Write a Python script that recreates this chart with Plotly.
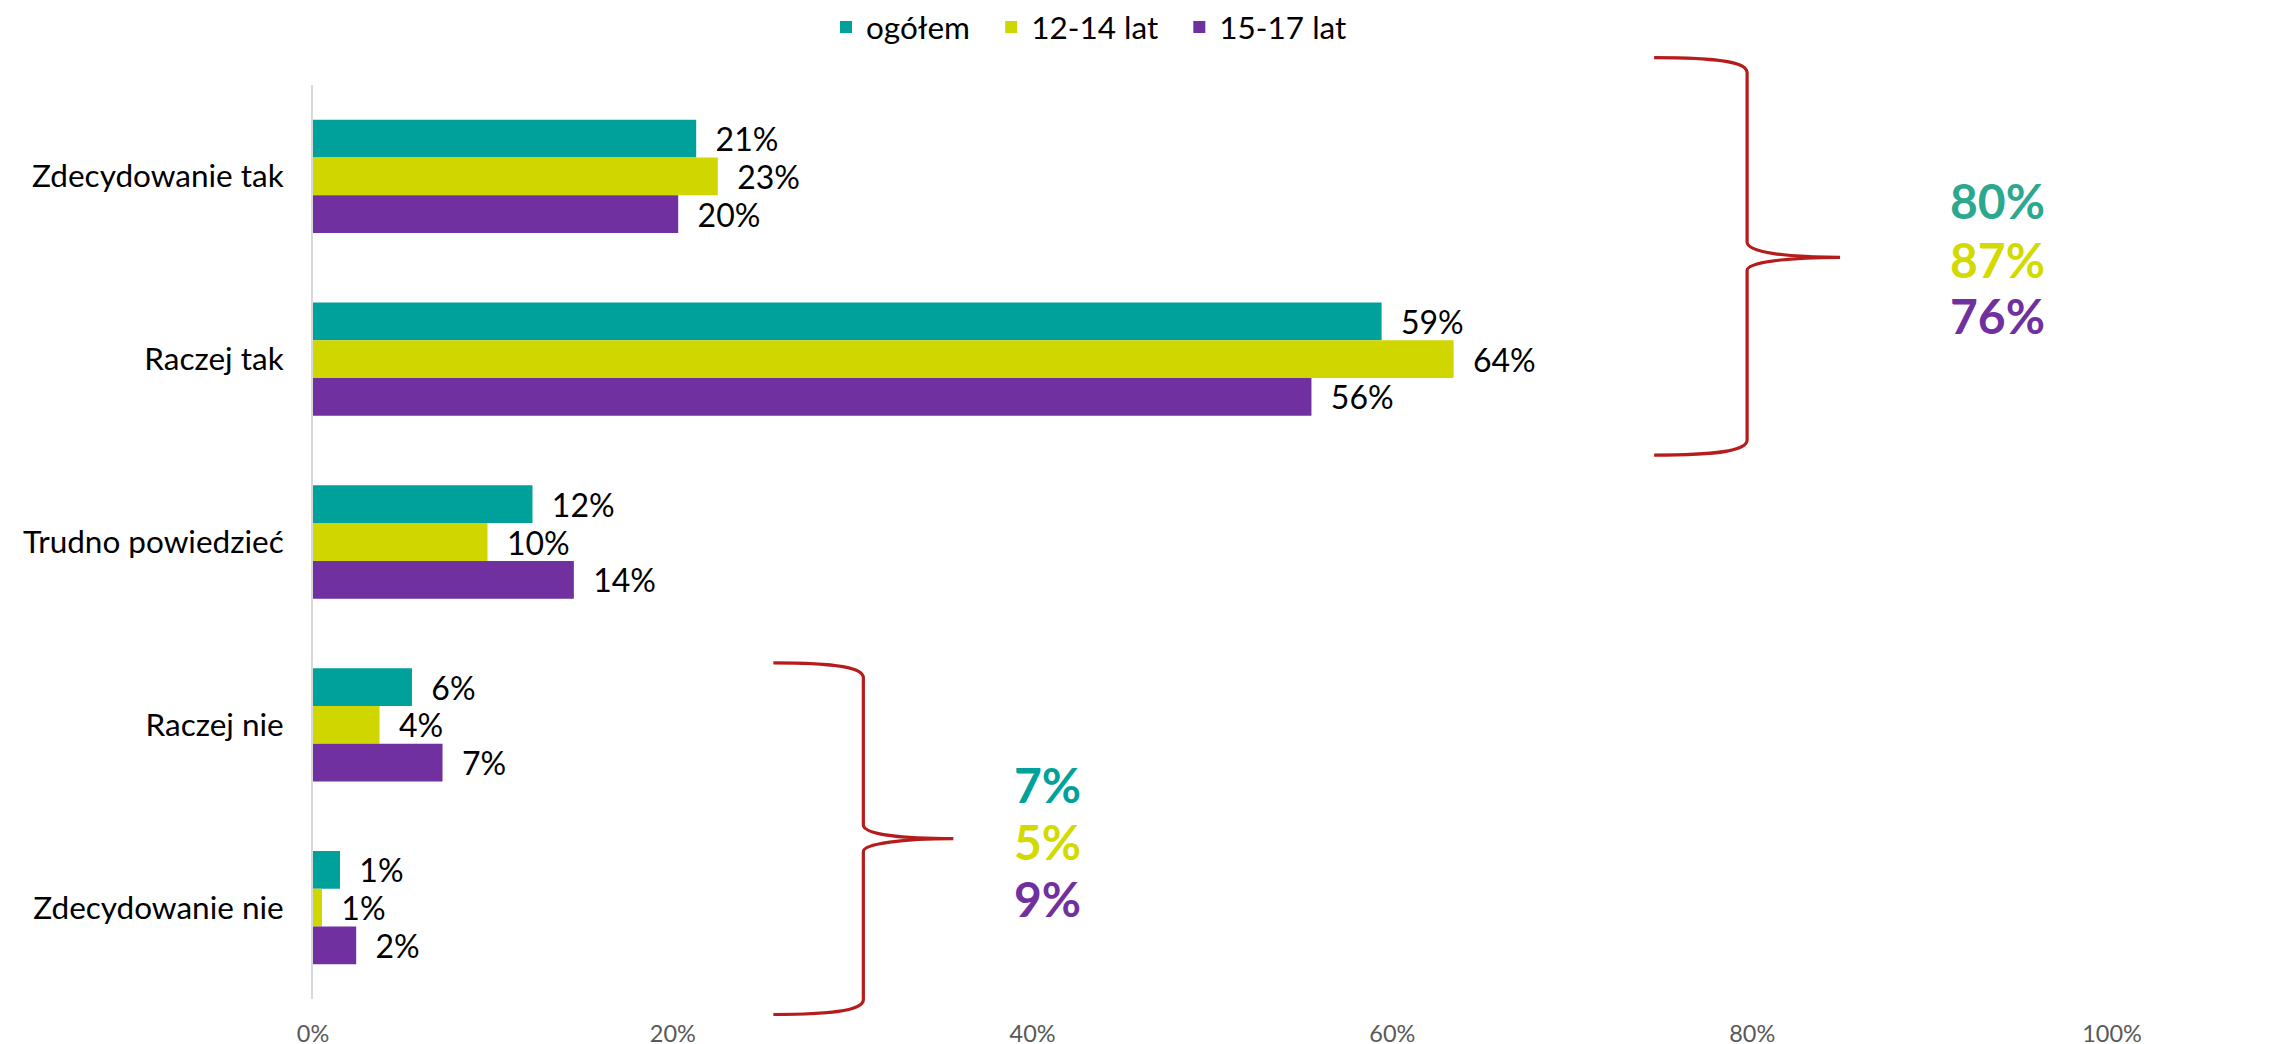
import plotly.graph_objects as go

categories = ["Zdecydowanie tak", "Raczej tak", "Trudno powiedzieć", "Raczej nie", "Zdecydowanie nie"]
series_names = ["ogółem", "12-14 lat", "15-17 lat"]
ogolem = [21.3, 59.4, 12.2, 5.5, 1.5]
lat_12_14 = [22.5, 63.4, 9.7, 3.7, 0.5]
lat_15_17 = [20.3, 55.5, 14.5, 7.2, 2.4]
labels_ogolem = ["21%", "59%", "12%", "6%", "1%"]
labels_12_14 = ["23%", "64%", "10%", "4%", "1%"]
labels_15_17 = ["20%", "56%", "14%", "7%", "2%"]
tick_vals = [0, 20, 40, 60, 80, 100]
tick_text = ["0%", "20%", "40%", "60%", "80%", "100%"]
sum_yes = ["80%", "87%", "76%"]
sum_no = ["7%", "5%", "9%"]

colors = ["#00A19A", "#CFD600", "#7030A0"]
sum_colors = ["#2BA88F", "#D2DA00", "#7030A0"]
sum_colors_no = ["#00A19A", "#D2DA00", "#7030A0"]

W, H = 2279, 1044
OFF = 8  # page body margin
L, R, T, B = 304.5, 175, 76.5, 52.5
PW, PH = W - L - R, H - T - B

def px(x):
    return (x - OFF - L) / PW

def py(y):
    return 1 - (y - OFF - T) / PH

fig = go.Figure()
for name, vals, labs, col in zip(series_names, [ogolem, lat_12_14, lat_15_17],
                                 [labels_ogolem, labels_12_14, labels_15_17], colors):
    fig.add_trace(go.Bar(
        name=name + "\u00a0\u00a0", y=categories, x=vals, orientation="h",
        marker=dict(color=col, line=dict(width=0)),
        text=["\u00a0\u00a0" + t for t in labs], textposition="outside",
        textfont=dict(family="Lato", size=32, color="#000000"),
        cliponaxis=False, constraintext="none",
    ))

def brace(xe, xv, xt, y_top, y_j1, y_tip, y_j2, y_bot):
    p = lambda x, y: f"{px(x):.5f},{py(y):.5f}"
    path = (f"M {p(xe, y_top)} C {p(xv - 25, y_top)} {p(xv, y_top + 5)} {p(xv, y_top + 15)} "
            f"L {p(xv, y_j1)} C {p(xv, y_j1 + 10)} {p(xv + 40, y_tip)} {p(xt, y_tip)} "
            f"C {p(xv + 40, y_tip)} {p(xv, y_j2 - 8)} {p(xv, y_j2)} "
            f"L {p(xv, y_bot - 15)} C {p(xv, y_bot - 5)} {p(xv - 25, y_bot)} {p(xe, y_bot)}")
    return dict(type="path", xref="paper", yref="paper", path=path,
                line=dict(color="#B71C1C", width=3.2))

shapes = [
    brace(1654, 1747, 1840, 57, 242, 257, 270, 455),
    brace(773, 863, 953, 663, 825, 839, 852, 1015),
]

annotations = []
for txt, c, yy in zip(sum_yes, sum_colors, [200, 259, 315]):
    annotations.append(dict(xref="paper", yref="paper", x=px(1997), y=py(yy), text=f"<b>{txt}</b>",
                            showarrow=False, font=dict(family="Lato", size=48, color=c),
                            xanchor="center", yanchor="middle"))
for txt, c, yy in zip(sum_no, sum_colors_no, [785, 842, 899]):
    annotations.append(dict(xref="paper", yref="paper", x=px(1047), y=py(yy), text=f"<b>{txt}</b>",
                            showarrow=False, font=dict(family="Lato", size=48, color=c),
                            xanchor="center", yanchor="middle"))

fig.update_layout(
    width=W, height=H,
    margin=dict(l=L, r=R, t=T, b=B, pad=0),
    paper_bgcolor="white", plot_bgcolor="white",
    barmode="group", bargap=0.38, bargroupgap=0,
    font=dict(family="Lato", size=31.5, color="#000000"),
    legend=dict(orientation="h", xref="container", yref="container",
                x=(826 - OFF) / W, xanchor="left", y=1 - (27 - OFF) / H, yanchor="middle",
                font=dict(family="Lato", size=31.5, color="#000000"), traceorder="normal"),
    xaxis=dict(range=[0, 100], tickvals=tick_vals, ticktext=tick_text, showgrid=False,
               zeroline=False, showline=False, ticks="", automargin=False,
               tickfont=dict(family="Lato", size=23.5, color="#595959"), ticklabelstandoff=18),
    yaxis=dict(autorange="reversed", showgrid=False, zeroline=False, showline=True,
               linecolor="#D9D9D9", linewidth=2, ticks="", ticklabelstandoff=21, automargin=False,
               tickfont=dict(family="Lato", size=31.5, color="#000000")),
    shapes=shapes, annotations=annotations,
)

fig.write_html("out.html")
